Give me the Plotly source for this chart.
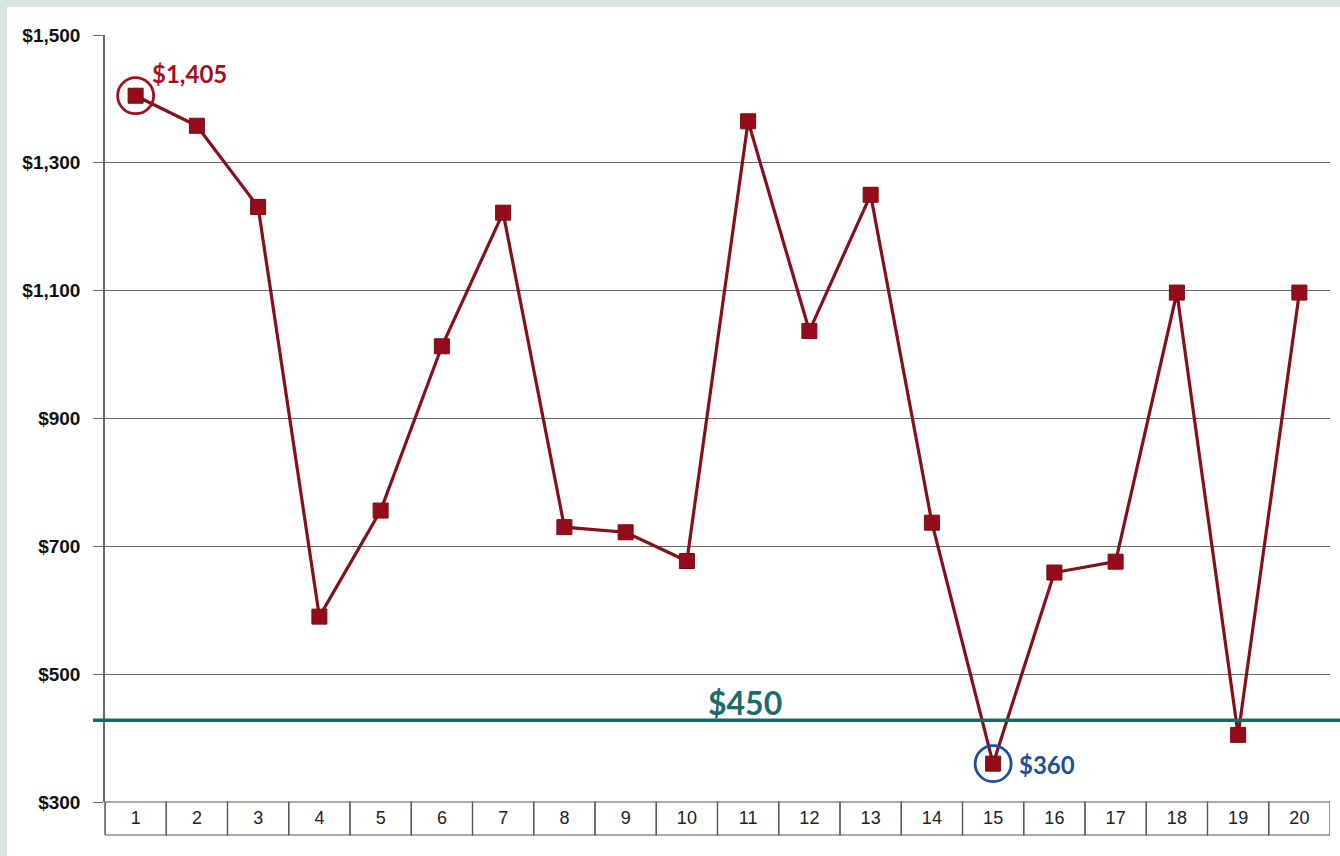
import plotly.graph_objects as go

periods = list(range(1, 21))
values = [1405, 1358, 1231, 590, 756, 1013, 1222, 730, 722, 677,
          1365, 1037, 1250, 737, 360, 659, 676, 1097, 405, 1097]
y_ticks = [300, 500, 700, 900, 1100, 1300, 1500]
threshold = 428
threshold_label = "$450"
hi_idx, lo_idx = 0, 14

W, H = 1340, 856
L, R, T, B = 105, 10, 35, 54
pw, ph = W - L - R, H - T - B
MINT = "#d8e6e2"

def px_x(p):
    return (p - L) / pw

def px_y(p):
    return (H - B - p) / ph

fig = go.Figure()

fig.add_trace(go.Scatter(
    x=periods, y=values, mode="lines+markers",
    line=dict(color="#83101b", width=3.2),
    marker=dict(symbol="square", size=15, color="#960b19",
                line=dict(color="#760a15", width=1)),
    hoverinfo="x+y", showlegend=False))

fig.add_trace(go.Scatter(
    x=[periods[hi_idx], periods[lo_idx]], y=[values[hi_idx], values[lo_idx]],
    mode="markers",
    marker=dict(symbol="circle-open", size=36,
                color=["#a0101e", "#1d4f9c"],
                line=dict(width=2.8, color=["#a0101e", "#1d4f9c"])),
    showlegend=False, hoverinfo="skip"))

shapes = []
# white page on mint frame
shapes.append(dict(type="rect", xref="paper", yref="paper",
                   x0=px_x(7), x1=px_x(W + 5), y0=px_y(H + 5), y1=px_y(7),
                   fillcolor="white", line=dict(width=0), layer="below"))
# table cells under the axis
for p in periods:
    shapes.append(dict(type="rect", xref="x", yref="paper",
                       x0=p - 0.5, x1=p + 0.5, y0=px_y(835), y1=0,
                       line=dict(color="#555555", width=1.2)))
# threshold line
shapes.append(dict(type="line", xref="paper", yref="y",
                   x0=px_x(93), x1=px_x(W + 5), y0=threshold, y1=threshold,
                   line=dict(color="#1b6668", width=3.5)))

annotations = [
    dict(x=periods[hi_idx], y=values[hi_idx], text=f"${values[hi_idx]:,}",
         showarrow=False, xanchor="left", yanchor="middle", xshift=14, yshift=22,
         font=dict(family="Lato, Open Sans, sans-serif", size=24, color="#a3101f", weight="bold")),
    dict(x=periods[lo_idx], y=values[lo_idx], text=f"${values[lo_idx]:,}",
         showarrow=False, xanchor="left", yanchor="middle", xshift=24, yshift=-1,
         font=dict(family="Lato, Open Sans, sans-serif", size=24, color="#1d4f9c", weight="bold")),
    dict(x=10.95, y=threshold, text=threshold_label, showarrow=False,
         xanchor="center", yanchor="bottom", yshift=-4,
         font=dict(family="Lato, Open Sans, sans-serif", size=32, color="#1b6b69", weight="bold")),
]

fig.update_layout(
    width=W, height=H,
    margin=dict(l=L, r=R, t=T, b=B, pad=0),
    paper_bgcolor=MINT, plot_bgcolor="white",
    shapes=shapes, annotations=annotations,
    xaxis=dict(range=[0.5, 20.5], tickmode="array", tickvals=periods,
               ticktext=[str(p) for p in periods], showgrid=False, zeroline=False,
               showline=False, ticks="", ticklabelstandoff=3,
               tickfont=dict(family="Liberation Sans Narrow, Arial Narrow, Liberation Sans, sans-serif",
                             size=18, color="#222222")),
    yaxis=dict(range=[300, 1500], tickmode="array", tickvals=y_ticks,
               ticktext=[f"${v:,}" for v in y_ticks],
               showgrid=True, gridcolor="#666666", gridwidth=1.2, zeroline=False,
               showline=True, linecolor="#666666", linewidth=1.5,
               ticks="outside", ticklen=10, tickcolor="#666666", tickwidth=1.2,
               ticklabelstandoff=9,
               tickfont=dict(family="Liberation Sans Narrow, Arial Narrow, Liberation Sans, sans-serif",
                             size=19, color="#111111", weight="bold")),
)

# extend the vertical axis through the table row
fig.add_shape(type="line", xref="paper", yref="paper", x0=0, x1=0,
              y0=px_y(835), y1=0, line=dict(color="#666666", width=1.5))

fig.write_html("out.html", config={"displayModeBar": False},
               post_script="document.body.style.margin='0';document.body.style.overflow='hidden';"
                           "document.body.style.background='" + MINT + "';")
